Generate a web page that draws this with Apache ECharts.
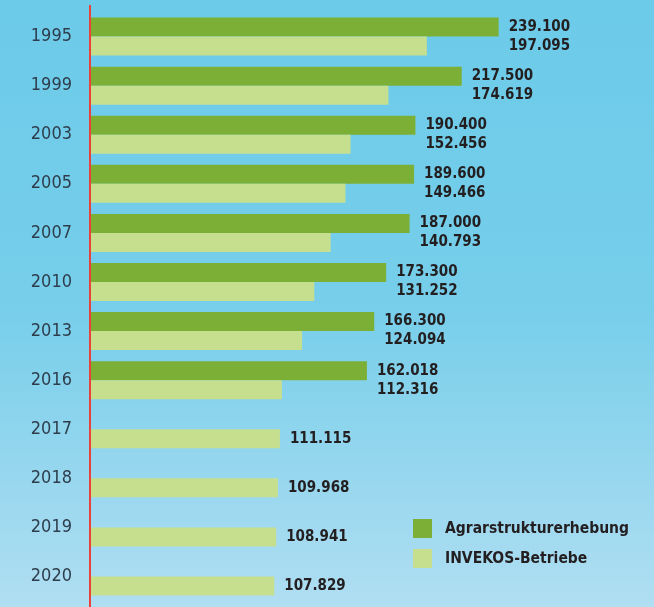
<!DOCTYPE html>
<html>
<head>
<meta charset="utf-8">
<script src="https://cdn.jsdelivr.net/npm/echarts@6/dist/echarts.min.js"></script>
<style>
  html, body { margin: 0; padding: 0; }
  #chart { width: 654px; height: 607px; }
</style>
</head>
<body>
<div id="chart"></div>
<script>
// Jahre
var years = ['1995', '1999', '2003', '2005', '2007', '2010', '2013', '2016', '2017', '2018', '2019', '2020'];
// Agrarstrukturerhebung (nur bis 2016)
var agrar = [239100, 217500, 190400, 189600, 187000, 173300, 166300, 162018, null, null, null, null];
// INVEKOS-Betriebe
var invekos = [197095, 174619, 152456, 149466, 140793, 131252, 124094, 112316, 111115, 109968, 108941, 107829];

var seriesNames = ['Agrarstrukturerhebung', 'INVEKOS-Betriebe'];

function fmt(v) {
    return String(v).replace(/\B(?=(\d{3})+(?!\d))/g, '.');
}

var labelFont = {
    color: '#231f20',
    fontFamily: '"DejaVu Sans Condensed", sans-serif',
    fontWeight: 'bold',
    fontSize: 15
};

// dunkle Balken: Beschriftung beider Werte (zweizeilig) rechts vom dunklen Balken
var agrarData = agrar.map(function (v, i) {
    if (v === null) return { value: null };
    return {
        value: v,
        label: Object.assign({
            show: true,
            position: ['100%', 0],
            offset: [10, 0],
            align: 'left',
            verticalAlign: 'top',
            lineHeight: 19,
            formatter: fmt(v) + '\n' + fmt(invekos[i])
        }, labelFont)
    };
});

// helle Balken: eigene Beschriftung nur wenn kein dunkler Balken
var invekosData = invekos.map(function (v, i) {
    if (agrar[i] !== null) return { value: v };
    return {
        value: v,
        label: Object.assign({
            show: true,
            position: 'right',
            distance: 10,
            formatter: fmt(v)
        }, labelFont)
    };
});

var dom = document.getElementById('chart');
var myChart = echarts.init(dom);

var option = {
    animation: false,
    backgroundColor: {
        type: 'linear', x: 0, y: 0, x2: 0, y2: 1,
        colorStops: [
            { offset: 0, color: '#6ccbe9' },
            { offset: 0.5, color: '#76ceea' },
            { offset: 1, color: '#b0def2' }
        ]
    },
    color: ['#7caf36', '#c6df8f'],
    grid: {
        left: 90,
        right: 0,
        top: 12,
        bottom: 6
    },
    legend: {
        orient: 'vertical',
        left: 413,
        top: 519,
        padding: 0,
        itemWidth: 19,
        itemHeight: 19,
        itemGap: 11,
        icon: 'rect',
        textStyle: Object.assign({ padding: [0, 0, 0, 8] }, labelFont, { fontSize: 15.5 }),
        data: seriesNames
    },
    xAxis: {
        type: 'value',
        min: 0,
        max: 330000,
        show: false
    },
    yAxis: {
        type: 'category',
        inverse: true,
        data: years,
        axisLine: { show: false },
        axisTick: { show: false },
        axisLabel: {
            margin: 18,
            color: '#2e3d4c',
            fontFamily: '"DejaVu Sans Condensed", sans-serif',
            fontSize: 18
        }
    },
    graphic: [{
        type: 'line',
        shape: { x1: 90, y1: 5, x2: 90, y2: 607 },
        style: { stroke: '#e8423a', lineWidth: 2 },
        z: 100
    }],
    series: [
        {
            name: seriesNames[0],
            type: 'bar',
            barWidth: 19,
            barGap: 0,
            data: agrarData
        },
        {
            name: seriesNames[1],
            type: 'bar',
            barWidth: 19,
            barGap: 0,
            data: invekosData
        }
    ]
};

myChart.setOption(option, true);
window.onresize = function () {
    myChart.resize();
};
</script>
</body>
</html>
